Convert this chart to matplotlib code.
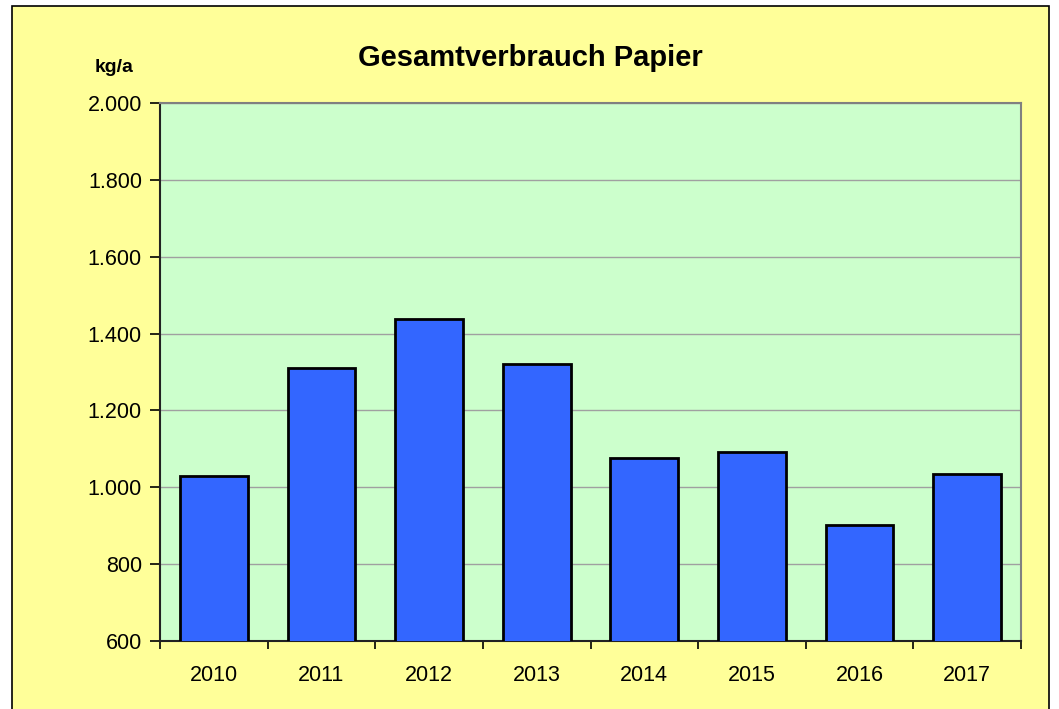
import matplotlib.pyplot as plt
import matplotlib.patches as patches
import numpy as np

years = ['2010', '2011', '2012', '2013', '2014', '2015', '2016', '2017']
verbrauch = [1030, 1310, 1437, 1320, 1077, 1092, 901, 1034]
y_ticks = [600, 800, 1000, 1200, 1400, 1600, 1800, 2000]
y_labels = ['600', '800', '1.000', '1.200', '1.400', '1.600', '1.800', '2.000']

plt.rcParams['font.family'] = ['Liberation Sans', 'DejaVu Sans']

fig = plt.figure(figsize=(10.59, 7.09), dpi=100)
fig.patch.set_facecolor('white')

# yellow chart area with black frame
frame = patches.Rectangle((12/1059, -0.01), (1049-12)/1059, (709-6)/709 + 0.01,
                          transform=fig.transFigure, facecolor='#FFFF99',
                          edgecolor='black', linewidth=1.2, zorder=-10)
fig.patches.append(frame)

ax = fig.add_axes([160/1059, 68/709, (1021-160)/1059, (641-103)/709])
ax.set_facecolor('#CCFFCC')
ax.set_zorder(1)

x = np.arange(len(years))
ax.bar(x, verbrauch, width=0.63, bottom=0, color='#3366FF',
       edgecolor='black', linewidth=2, zorder=3)

ax.set_ylim(600, 2000)
ax.set_xlim(-0.5, len(years) - 0.5)
ax.set_yticks(y_ticks)
ax.set_yticklabels(y_labels)
ax.yaxis.grid(True, color='#A0A0A0', linewidth=1.0, zorder=1)
ax.set_axisbelow(True)

ax.set_xticks(x)
ax.set_xticklabels(years)
ax.set_xticks(np.arange(-0.5, len(years)), minor=True)
ax.tick_params(axis='x', which='major', length=0, pad=17, labelsize=15.5)
ax.tick_params(axis='x', which='minor', length=6, width=1.2, direction='out')
ax.tick_params(axis='y', length=7, width=1.2, direction='out', pad=6, labelsize=15.5)

for s in ['top', 'right']:
    ax.spines[s].set_color('#808080')
    ax.spines[s].set_linewidth(1.5)
for s in ['left', 'bottom']:
    ax.spines[s].set_color('#222222')
    ax.spines[s].set_linewidth(1.5)

fig.text(530/1059, 1 - 58/709, 'Gesamtverbrauch Papier', ha='center', va='center',
         fontsize=21, fontweight='bold')
fig.text(114/1059, 1 - 67/709, 'kg/a', ha='center', va='center',
         fontsize=14, fontweight='bold')

fig.savefig('out.png', dpi=100, facecolor=fig.get_facecolor())
